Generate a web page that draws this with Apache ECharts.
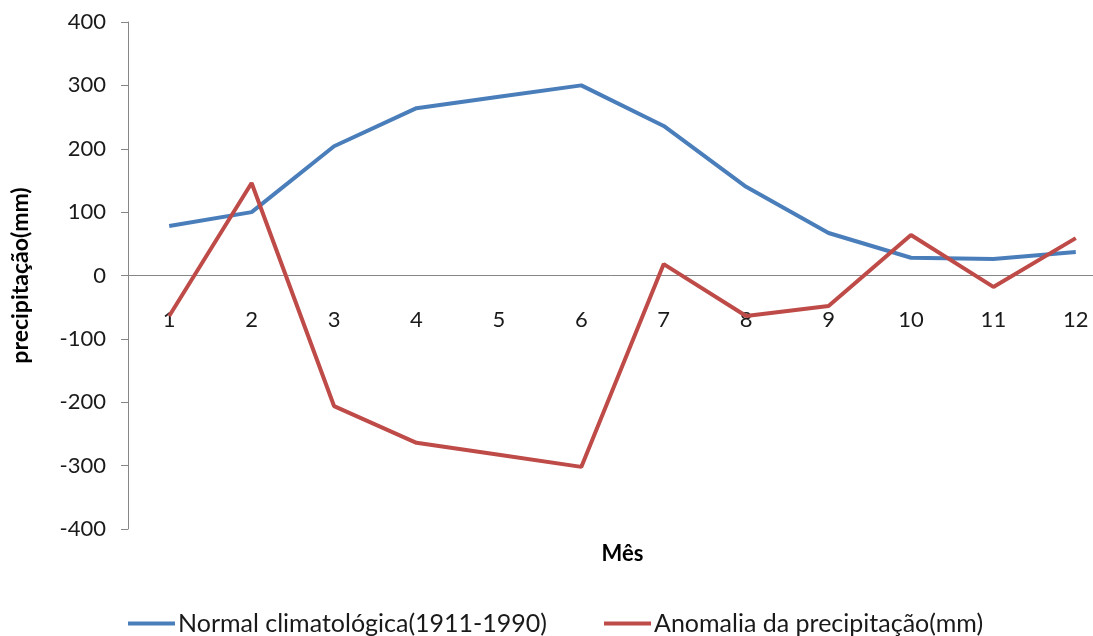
<!DOCTYPE html>
<html>
<head>
<meta charset="utf-8">
<script src="https://cdn.jsdelivr.net/npm/echarts@6/dist/echarts.min.js"></script>
<style>
html,body{margin:0;padding:0;background:#fff;}
#chart{width:1093px;height:636px;}
</style>
</head>
<body>
<div id="chart"></div>
<script>
var months = ['1','2','3','4','5','6','7','8','9','10','11','12'];
var normal = [78, 100, 204, 264, 282, 300, 236, 140, 67, 28, 26, 37];
var anomalia = [-64, 146, -206, -264, -283, -302, 18, -64, -48, 64, -18, 59];
var seriesNames = ['Normal climatológica(1911-1990)', 'Anomalia da precipitação(mm)'];

var FONT = 'Lato';
var chart = echarts.init(document.getElementById('chart'), null, {renderer:'canvas'});
chart.setOption({
  animation: false,
  backgroundColor: '#ffffff',
  grid: {left: 128, top: 22, bottom: 107, right: -24, containLabel: false, outerBoundsMode: 'none'},
  legend: {
    bottom: -5, left: 123,
    itemWidth: 47, itemHeight: 4, itemGap: 57,
    icon: 'rect',
    textStyle: {fontFamily: FONT, fontSize: 25, color: '#1a1a1a', padding: [0,0,0,-2]},
    data: seriesNames
  },
  xAxis: {
    type: 'category',
    data: months,
    boundaryGap: true,
    name: 'Mês',
    nameLocation: 'middle',
    nameGap: 14,
    nameTextStyle: {fontFamily: FONT, fontSize: 22, fontWeight: 'bold', color: '#000', verticalAlign: 'top'},
    axisLine: {onZero: true, lineStyle: {color: '#868686', width: 1}},
    axisTick: {show: false},
    axisLabel: {fontFamily: FONT, fontSize: 22, color: '#1a1a1a', margin: -220, interval: 0},
    splitLine: {show: false}
  },
  yAxis: {
    type: 'value',
    min: -400, max: 400, interval: 100,
    name: 'precipitação(mm)',
    nameLocation: 'middle',
    nameGap: 96,
    nameRotate: 90,
    nameTextStyle: {fontFamily: FONT, fontSize: 23, fontWeight: 'bold', color: '#000'},
    axisLine: {show: true, lineStyle: {color: '#868686', width: 1}},
    axisTick: {show: true, length: 7, lineStyle: {color: '#868686'}},
    axisLabel: {fontFamily: FONT, fontSize: 22, color: '#1a1a1a', margin: 22},
    splitLine: {show: false}
  },
  series: [
    {name: seriesNames[0], type: 'line', data: normal, symbol: 'none',
     lineStyle: {color: '#4a7ebb', width: 4}, itemStyle: {color: '#4a7ebb'}},
    {name: seriesNames[1], type: 'line', data: anomalia, symbol: 'none',
     lineStyle: {color: '#be4b48', width: 4}, itemStyle: {color: '#be4b48'}}
  ]
});
</script>
</body>
</html>
